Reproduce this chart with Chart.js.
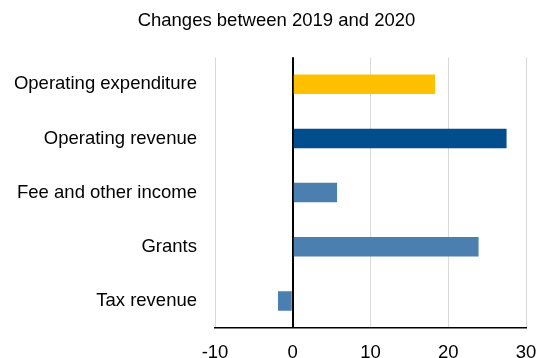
<!DOCTYPE html>
<html>
<head>
<meta charset="utf-8">
<title>Changes between 2019 and 2020</title>
<script src="https://cdn.jsdelivr.net/npm/chart.js@4"></script>
<style>
    html, body { margin: 0; padding: 0; background: #fff; }
    #wrap { width: 539px; height: 358px; }
</style>
</head>
<body>
<div id="wrap"><canvas id="chart-changes"></canvas></div>
<script>
// Categories and values (change between 2019 and 2020)
const categorias = ['Operating expenditure', 'Operating revenue', 'Fee and other income', 'Grants', 'Tax revenue'];
const valores = [18.3, 27.5, 5.7, 23.9, -1.9];
const xTicks = [-10, 0, 10, 20, 30];

// bar colours, one per category
const cores = ['#ffc000', '#004e8e', '#4b7faf', '#4b7faf', '#4b7faf'];

const fonte = { family: '"Liberation Sans", Arial, sans-serif', size: 18.5 };

// let the long category labels run past the left padding instead of being clipped
const soltaRotulos = {
    id: 'soltaRotulos',
    afterLayout(chart) { chart.scales.y.left = 0; }
};

new Chart(document.getElementById('chart-changes'), {
    type: 'bar',
    data: {
        labels: categorias,
        datasets: [{ data: valores, backgroundColor: cores, barPercentage: 0.36, categoryPercentage: 1 }]
    },
    plugins: [soltaRotulos],
    options: {
        indexAxis: 'y',
        responsive: true,
        maintainAspectRatio: false,
        animation: false,
        layout: { padding: { left: 27, right: 13, top: 0, bottom: 0 } },
        plugins: {
            legend: { display: false },
            tooltip: { enabled: false },
            title: {
                display: true,
                text: 'Changes between 2019 and 2020',
                color: '#000',
                font: { ...fonte, weight: 'normal' },
                padding: { top: 10, bottom: 25 }
            }
        },
        scales: {
            x: {
                min: xTicks[0],
                max: xTicks[xTicks.length - 1],
                afterBuildTicks: s => { s.ticks = xTicks.map(v => ({ value: v })); },
                afterFit: s => { s.height = 30; s.paddingLeft = 0; s.paddingRight = 0; },
                grid: {
                    drawTicks: false,
                    color: c => c.tick && c.tick.value === 0 ? '#000' : '#d9d9d9',
                    lineWidth: c => c.tick && c.tick.value === 0 ? 2 : 1
                },
                border: { display: true, color: '#000', width: 1.5 },
                ticks: { color: '#000', font: fonte, padding: 14 }
            },
            y: {
                afterFit: s => { s.width = 188; },
                grid: { display: false, drawTicks: false },
                border: { display: false },
                ticks: { color: '#000', font: fonte, padding: 18 }
            }
        }
    }
});
</script>
</body>
</html>
